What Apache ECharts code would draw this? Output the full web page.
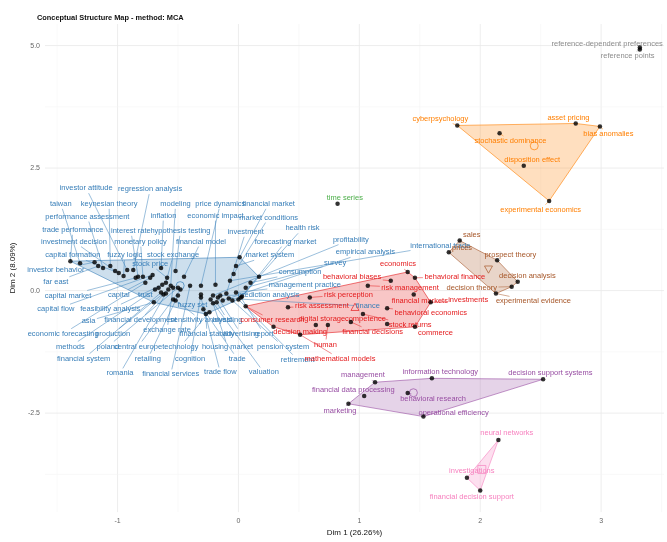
<!DOCTYPE html>
<html>
<head>
<meta charset="utf-8">
<script src="https://cdn.jsdelivr.net/npm/echarts@6/dist/echarts.min.js"></script>
<style>
  html, body { margin: 0; background: #fff; }
  #chart { width: 667px; height: 542px; }
</style>
</head>
<body>
<div id="chart"></div>
<script>
// terms: [word, Dim 1, Dim 2]
const blueTerms = [
  ['investor attitude', -0.92, 0.42], ['regression analysis', -0.87, 0.42], ['taiwan', -1.31, 0.56],
  ['keynesian theory', -1.06, 0.50], ['modeling', -0.56, 0.10], ['price dynamics', -0.31, 0.10],
  ['financial market', 0.01, 0.68], ['performance assessment', -1.12, 0.46], ['inflation', -0.64, 0.46],
  ['economic impact', -0.19, 0.12], ['market conditions', -0.04, 0.34], ['trade performance', -1.39, 0.60],
  ['interest rate', -0.83, 0.28], ['hypothesis testing', -0.52, 0.40], ['investment', -0.10, -0.06],
  ['investment decision', -1.02, 0.40], ['monetary policy', -0.79, 0.28], ['financial model', -0.45, 0.28],
  ['health risk', 0.17, 0.28], ['forecasting market', 0.03, -0.12], ['profitability', -0.21, -0.10],
  ['capital formation', -0.99, 0.36], ['fuzzy logic', -0.95, 0.30], ['stock exchange', -0.60, 0.16],
  ['international trade', -0.07, 0.20], ['empirical analysis', -0.13, -0.20], ['market system', -0.02, 0.50],
  ['survey', 0.06, 0.06], ['consumption', 0.10, 0.16], ['management practice', -0.02, -0.04],
  ['prediction analysis', -0.15, -0.10], ['investor behavior', -1.19, 0.58], ['far east', -1.16, 0.50],
  ['capital market', -0.85, 0.26], ['capital', -0.73, 0.26], ['trust', -0.66, 0.06],
  ['capital flow', -0.71, 0.32], ['feasibility analysis', -0.63, 0.12], ['fuzzy set', -0.54, -0.18],
  ['finance', -0.08, -0.16], ['asia', -0.70, -0.24], ['financial development', -0.62, -0.08],
  ['sensitivity analysis', -0.52, -0.20], ['investing', -0.18, -0.24], ['economic forecasting', -0.77, 0.16],
  ['production', -0.58, 0.02], ['exchange rate', -0.54, 0.06], ['financial stability', -0.27, -0.48],
  ['advertising', -0.17, -0.14], ['report', 0.02, -0.14], ['methods', -0.69, 0.02],
  ['poland', -0.50, 0.06], ['central europe', -0.48, 0.02], ['technology', -0.24, -0.44],
  ['housing market', -0.21, -0.26], ['pension system', -0.05, -0.20], ['financial system', -0.64, -0.04],
  ['retailing', -0.50, -0.10], ['cognition', -0.31, -0.08], ['trade', -0.29, -0.38],
  ['retirement', 0.00, -0.18], ['romania', -0.60, -0.06], ['financial services', -0.40, 0.10],
  ['trade flow', -0.31, -0.14], ['valuation', -0.23, -0.18], ['stock price', -0.59, 0.26]
];
const redTerms = [
  ['economics', 1.40, 0.38], ['behavioral finance', 1.46, 0.26], ['behavioral biases', 1.26, 0.20],
  ['risk management', 1.07, 0.10], ['risk perception', 0.59, -0.14], ['financial markets', 1.45, -0.08],
  ['investments', 1.59, -0.24], ['risk assessment', 0.41, -0.34], ['behavioral economics', 1.23, -0.36],
  ['stock returns', 1.03, -0.48], ['consumer research', 0.06, -0.32], ['digital storage', 0.64, -0.70],
  ['decision making', 0.29, -0.74], ['competence', 1.23, -0.68], ['financial decisions', 0.93, -0.64],
  ['commerce', 1.46, -0.74], ['human', 0.74, -0.70], ['mathematical models', 0.51, -0.90]
];
const greenTerms = [['time series', 0.82, 1.77]];
const orangeTerms = [
  ['cyberpsychology', 1.81, 3.37], ['stochastic dominance', 2.16, 3.21], ['disposition effect', 2.36, 2.55],
  ['asset pricing', 2.79, 3.41], ['bias anomalies', 2.99, 3.35], ['experimental economics', 2.57, 1.83]
];
const brownTerms = [
  ['sales', 1.83, 1.02], ['prices', 1.74, 0.78], ['prospect theory', 2.14, 0.62],
  ['decision analysis', 2.31, 0.18], ['decision theory', 2.26, 0.08], ['experimental evidence', 2.13, -0.06]
];
const purpleTerms = [
  ['management', 1.13, -1.87], ['information technology', 1.60, -1.79], ['decision support systems', 2.52, -1.81],
  ['financial data processing', 1.04, -2.15], ['behavioral research', 1.40, -2.09], ['marketing', 0.91, -2.31],
  ['operational efficiency', 1.53, -2.57]
];
const pinkTerms = [
  ['neural networks', 2.15, -3.05], ['investigations', 1.89, -3.82], ['financial decision support', 2.00, -4.08]
];
const greyTerms = [['reference-dependent preferences', 3.32, 4.96], ['reference points', 3.32, 4.92]];

// where ggrepel put each word (Dim 1, Dim 2)
const labelAt = {
  'investor attitude': [-1.26, 2.09], 'regression analysis': [-0.73, 2.07], 'taiwan': [-1.47, 1.77],
  'keynesian theory': [-1.07, 1.77], 'modeling': [-0.52, 1.77], 'price dynamics': [-0.15, 1.77],
  'financial market': [0.25, 1.77], 'performance assessment': [-1.25, 1.51], 'inflation': [-0.62, 1.53],
  'economic impact': [-0.19, 1.53], 'market conditions': [0.25, 1.49], 'trade performance': [-1.37, 1.24],
  'interest rate': [-0.89, 1.22], 'hypothesis testing': [-0.48, 1.22], 'investment': [0.06, 1.20],
  'investment decision': [-1.36, 1.00], 'monetary policy': [-0.81, 1.00], 'financial model': [-0.31, 1.00],
  'health risk': [0.53, 1.27], 'forecasting market': [0.39, 1.00], 'profitability': [0.93, 1.04],
  'capital formation': [-1.37, 0.72], 'fuzzy logic': [-0.94, 0.72], 'stock exchange': [-0.54, 0.72],
  'international trade': [1.67, 0.92], 'empirical analysis': [1.05, 0.78], 'market system': [0.26, 0.72],
  'survey': [0.80, 0.56], 'consumption': [0.51, 0.38], 'management practice': [0.55, 0.12],
  'prediction analysis': [0.25, -0.08], 'investor behavior': [-1.51, 0.42], 'far east': [-1.51, 0.18],
  'capital market': [-1.41, -0.10], 'capital': [-0.99, -0.08], 'trust': [-0.77, -0.08],
  'capital flow': [-1.51, -0.38], 'feasibility analysis': [-1.06, -0.38], 'fuzzy set': [-0.38, -0.30],
  'finance': [1.07, -0.32], 'asia': [-1.24, -0.62], 'financial development': [-0.81, -0.60],
  'sensitivity analysis': [-0.31, -0.60], 'investing': [-0.09, -0.60], 'economic forecasting': [-1.45, -0.88],
  'production': [-1.04, -0.88], 'exchange rate': [-0.59, -0.80], 'financial stability': [-0.26, -0.88],
  'advertising': [0.02, -0.88], 'report': [0.21, -0.88], 'methods': [-1.39, -1.14],
  'poland': [-1.08, -1.14], 'central europe': [-0.83, -1.14], 'technology': [-0.48, -1.14],
  'housing market': [-0.09, -1.14], 'pension system': [0.37, -1.14], 'financial system': [-1.28, -1.39],
  'retailing': [-0.75, -1.39], 'cognition': [-0.40, -1.39], 'trade': [-0.01, -1.39],
  'retirement': [0.49, -1.41], 'romania': [-0.98, -1.69], 'financial services': [-0.56, -1.71],
  'trade flow': [-0.15, -1.67], 'valuation': [0.21, -1.67], 'stock price': [-0.73, 0.54],

  'economics': [1.32, 0.54], 'behavioral finance': [1.79, 0.28], 'behavioral biases': [0.94, 0.28],
  'risk management': [1.42, 0.06], 'risk perception': [0.91, -0.08], 'financial markets': [1.50, -0.22],
  'investments': [1.90, -0.20], 'risk assessment': [0.69, -0.32], 'behavioral economics': [1.59, -0.46],
  'stock returns': [1.42, -0.70], 'consumer research': [0.28, -0.60], 'digital storage': [0.69, -0.58],
  'decision making': [0.51, -0.84], 'competence': [1.05, -0.58], 'financial decisions': [1.11, -0.84],
  'commerce': [1.63, -0.86], 'human': [0.72, -1.10], 'mathematical models': [0.84, -1.39],

  'time series': [0.88, 1.89],
  'cyberpsychology': [1.67, 3.51], 'stochastic dominance': [2.25, 3.05], 'disposition effect': [2.43, 2.67],
  'asset pricing': [2.73, 3.53], 'bias anomalies': [3.06, 3.19], 'experimental economics': [2.50, 1.65],
  'sales': [1.93, 1.14], 'prices': [1.85, 0.88], 'prospect theory': [2.25, 0.72],
  'decision analysis': [2.39, 0.30], 'decision theory': [1.93, 0.06], 'experimental evidence': [2.44, -0.22],
  'management': [1.03, -1.73], 'information technology': [1.67, -1.67], 'decision support systems': [2.58, -1.69],
  'financial data processing': [0.95, -2.03], 'behavioral research': [1.61, -2.21], 'marketing': [0.84, -2.45],
  'operational efficiency': [1.78, -2.49],
  'neural networks': [2.22, -2.91], 'investigations': [1.93, -3.69], 'financial decision support': [1.93, -4.22],
  'reference-dependent preferences': [3.05, 5.04], 'reference points': [3.22, 4.78]
};

const xTicks = [-1, 0, 1, 2, 3];
const yTicks = [-2.5, 0, 2.5, 5];
const xMinor = [-1.5, -0.5, 0.5, 1.5, 2.5, 3.5];
const yMinor = [-3.75, -1.25, 1.25, 3.75];

const clusterTerms = [blueTerms, redTerms, greenTerms, orangeTerms, brownTerms, purpleTerms, pinkTerms, greyTerms];
const clusterColors = ['#377EB8', '#E41A1C', '#4DAF4A', '#FF7F00', '#A65628', '#984EA3', '#F781BF', '#8c8c8c'];
const centroidShapes = ['circle', 'triangle', null, 'circle', 'downTriangle', 'circle', 'square', null];

const FONT = 'Liberation Sans, Arial, sans-serif';
const LABEL_SIZE = 7.5;
const measure = document.createElement('canvas').getContext('2d');
measure.font = LABEL_SIZE + 'px ' + FONT;

function hexA(hex, a) {
  const n = parseInt(hex.slice(1), 16);
  return 'rgba(' + (n >> 16) + ',' + ((n >> 8) & 255) + ',' + (n & 255) + ',' + a + ')';
}

function convexHull(pts) {
  const p = pts.slice().sort((a, b) => a[0] - b[0] || a[1] - b[1]);
  const cross = (o, a, b) => (a[0] - o[0]) * (b[1] - o[1]) - (a[1] - o[1]) * (b[0] - o[0]);
  const lower = [], upper = [];
  p.forEach(q => {
    while (lower.length >= 2 && cross(lower[lower.length - 2], lower[lower.length - 1], q) <= 0) lower.pop();
    lower.push(q);
  });
  for (let i = p.length - 1; i >= 0; i--) {
    const q = p[i];
    while (upper.length >= 2 && cross(upper[upper.length - 2], upper[upper.length - 1], q) <= 0) upper.pop();
    upper.push(q);
  }
  upper.pop(); lower.pop();
  return lower.concat(upper);
}

const pointData = [];
const labelRows = [];
clusterTerms.forEach((terms, c) => {
  terms.forEach(t => {
    pointData.push([t[1], t[2]]);
    const at = labelAt[t[0]];
    labelRows.push({ word: t[0], c: c, value: [t[1], t[2], at[0], at[1]] });
  });
});
const hullClusters = clusterTerms.map((t, i) => i).filter(i => clusterTerms[i].length >= 3);

const chart = echarts.init(document.getElementById('chart'));

chart.setOption({
  animation: false,
  title: {
    text: 'Conceptual Structure Map - method: MCA',
    left: 32, top: 9,
    textStyle: { fontSize: 7.4, fontWeight: 'bold', color: '#111', fontFamily: FONT }
  },
  grid: { left: 45, right: 3, top: 24, bottom: 22 },
  xAxis: {
    type: 'value', min: -1.6, max: 3.52,
    name: 'Dim 1 (26.26%)', nameLocation: 'middle', nameGap: 16,
    nameTextStyle: { fontSize: 8, color: '#111', fontFamily: FONT },
    axisLine: { show: false }, axisTick: { show: false }, splitLine: { show: false },
    axisLabel: { customValues: xTicks, fontSize: 7, color: '#666', margin: 5, fontFamily: FONT }
  },
  yAxis: {
    type: 'value', min: -4.52, max: 5.44,
    name: 'Dim 2 (8.09%)', nameLocation: 'middle', nameGap: 21, nameRotate: 90,
    nameTextStyle: { fontSize: 8, color: '#111', fontFamily: FONT },
    axisLine: { show: false }, axisTick: { show: false }, splitLine: { show: false },
    axisLabel: {
      customValues: yTicks, fontSize: 7, color: '#666', margin: 5, fontFamily: FONT,
      formatter: v => v.toFixed(1)
    }
  },
  series: [
    {
      // panel grid lines
      type: 'custom', silent: true, z: 1,
      data: xMinor.map(v => [v, 0, 0]).concat(xTicks.map(v => [v, 0, 1]),
            yMinor.map(v => [0, v, 2]), yTicks.map(v => [0, v, 3])),
      renderItem: (params, api) => {
        const cs = params.coordSys;
        const kind = api.value(2);
        const major = kind === 1 || kind === 3;
        const style = { stroke: major ? '#e8e8e8' : '#f3f3f3', lineWidth: major ? 0.8 : 0.5 };
        if (kind < 2) {
          const x = api.coord([api.value(0), 0])[0];
          return { type: 'line', shape: { x1: x, y1: cs.y, x2: x, y2: cs.y + cs.height }, style };
        }
        const y = api.coord([0, api.value(1)])[1];
        return { type: 'line', shape: { x1: cs.x, y1: y, x2: cs.x + cs.width, y2: y }, style };
      }
    },
    {
      // cluster hulls
      type: 'custom', silent: true, z: 2,
      data: hullClusters.map(c => [c]),
      renderItem: (params, api) => {
        const c = hullClusters[params.dataIndex];
        const hull = convexHull(clusterTerms[c].map(t => [t[1], t[2]]));
        return {
          type: 'polygon',
          shape: { points: hull.map(p => api.coord(p)) },
          style: { fill: hexA(clusterColors[c], 0.25), stroke: clusterColors[c], lineWidth: 0.6 }
        };
      }
    },
    {
      // cluster centroids
      type: 'custom', silent: true, z: 3,
      data: hullClusters.map(c => [c]),
      renderItem: (params, api) => {
        const c = hullClusters[params.dataIndex];
        const t = clusterTerms[c];
        const mx = t.reduce((s, r) => s + r[1], 0) / t.length;
        const my = t.reduce((s, r) => s + r[2], 0) / t.length;
        const p = api.coord([mx, my]);
        const shape = centroidShapes[c];
        const style = { fill: 'none', stroke: clusterColors[c], lineWidth: 0.7 };
        const r = 4;
        if (shape === 'square') {
          return { type: 'rect', shape: { x: p[0] - r, y: p[1] - r, width: 2 * r, height: 2 * r }, style };
        }
        if (shape === 'triangle') {
          return { type: 'polygon', shape: { points: [[p[0], p[1] - r], [p[0] + r, p[1] + r * 0.8], [p[0] - r, p[1] + r * 0.8]] }, style };
        }
        if (shape === 'downTriangle') {
          return { type: 'polygon', shape: { points: [[p[0], p[1] + r], [p[0] + r, p[1] - r * 0.8], [p[0] - r, p[1] - r * 0.8]] }, style };
        }
        return { type: 'circle', shape: { cx: p[0], cy: p[1], r: r }, style };
      }
    },
    {
      // repelled labels with their segments
      type: 'custom', silent: true, z: 4,
      data: labelRows.map(r => r.value),
      renderItem: (params, api) => {
        const row = labelRows[params.dataIndex];
        const color = clusterColors[row.c];
        const p = api.coord([api.value(0), api.value(1)]);
        const l = api.coord([api.value(2), api.value(3)]);
        const hw = measure.measureText(row.word).width / 2 + 1.5;
        const hh = 5;
        const dx = p[0] - l[0], dy = p[1] - l[1];
        const children = [];
        if (Math.abs(dx) > hw || Math.abs(dy) > hh) {
          const t = Math.min(Math.abs(dx) > 0 ? hw / Math.abs(dx) : Infinity, Math.abs(dy) > 0 ? hh / Math.abs(dy) : Infinity);
          const sx = l[0] + dx * t, sy = l[1] + dy * t;
          if (Math.hypot(p[0] - sx, p[1] - sy) > 2) {
            children.push({ type: 'line', shape: { x1: p[0], y1: p[1], x2: sx, y2: sy }, style: { stroke: color, lineWidth: 0.5 } });
          }
        }
        children.push({
          type: 'text',
          style: { text: row.word, x: l[0], y: l[1], align: 'center', verticalAlign: 'middle', fontSize: LABEL_SIZE, fontFamily: FONT, fill: color }
        });
        return { type: 'group', children };
      }
    },
    {
      type: 'scatter', z: 5, silent: true,
      symbol: 'circle', symbolSize: 4.5,
      itemStyle: { color: '#000' },
      data: pointData
    }
  ]
});
</script>
</body>
</html>
